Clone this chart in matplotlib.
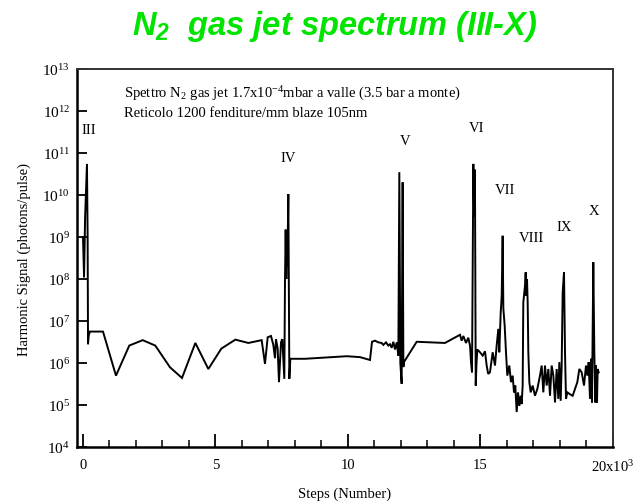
import numpy as np
import matplotlib
matplotlib.use("Agg")
import matplotlib.pyplot as plt
from matplotlib.ticker import FixedLocator, FixedFormatter, MultipleLocator, NullLocator

plt.rcParams['font.family'] = ['Liberation Serif', 'DejaVu Serif']
plt.rcParams['mathtext.fontset'] = 'custom'
plt.rcParams['mathtext.rm'] = 'Liberation Serif'
plt.rcParams['mathtext.it'] = 'Liberation Serif:italic'
plt.rcParams['mathtext.bf'] = 'Liberation Serif:bold'
plt.rcParams['mathtext.bfit'] = 'Liberation Sans:italic:bold'

# ---------------- data ----------------
steps = [0, 40, 80, 150, 175, 190, 215, 260, 755, 1245, 1747, 2252, 2728, 3283, 3736,
         4240, 4730, 5220, 5750, 6240, 6742, 6868, 6969, 7094, 7182, 7245, 7283, 7346,
         7396, 7472, 7522, 7597, 7623, 7648, 7673, 7686, 7711, 7749, 7787, 7824, 8378,
         9950, 10453, 10830, 10906, 11019, 11144, 11270, 11333, 11434, 11522, 11585,
         11648, 11711, 11774, 11837, 11900, 11937, 11975, 12024, 12062, 12090, 12113,
         12150, 12592, 13094, 13660, 14226, 14289, 14352, 14453, 14540, 14604, 14642,
         14680, 14730, 14760, 14790, 14820, 14850, 14880, 14981, 15082, 15170, 15233,
         15290, 15358, 15459, 15547, 15610, 15673, 15710, 15761, 15800, 15836, 15862,
         15912, 15962, 16012, 16087, 16151, 16214, 16264, 16314, 16365, 16415, 16465,
         16516, 16553, 16591, 16616, 16654, 16679, 16705, 16730, 16755, 16780, 16805,
         16843, 16893, 16968, 17056, 17144, 17245, 17308, 17371, 17434, 17497, 17560,
         17623, 17686, 17749, 17812, 17874, 17937, 17975, 18026, 18063, 18101, 18151,
         18189, 18226, 18277, 18377, 18478, 18566, 18654, 18730, 18818, 18906, 18981,
         19032, 19082, 19132, 19170, 19207, 19257, 19295, 19333, 19358, 19396, 19421,
         19459]
signal = [1.0e9, 1.1e8, 3.0e9, 5.5e10, 1.0e9, 2.8e6, 4.5e6, 5.6e6, 5.6e6, 5.0e5, 2.6e6,
          3.5e6, 2.6e6, 7.9e5, 4.4e5, 3.0e6, 7.2e5, 2.2e6, 3.6e6, 3.0e6, 3.5e6, 9.5e5,
          4.1e6, 4.4e6, 2.7e6, 1.3e6, 3.7e6, 2.2e6, 3.5e5, 3.1e6, 3.7e6, 4.2e5, 1.0e8,
          1.5e9, 1.0e8, 3.6e8, 2.0e8, 1.05e10, 4.2e5, 1.26e6, 1.26e6,
          1.45e6, 1.38e6, 1.18e6, 3.2e6, 3.4e6, 3.1e6, 3.0e6, 2.7e6, 3.1e6, 2.6e6, 2.8e6,
          2.3e6, 3.2e6, 2.1e6, 3.1e6, 1.5e6, 3.5e10, 1.0e6, 3.2e5, 2.0e10, 8.0e5, 1.05e6,
          1.15e6, 3.2e6, 3.1e6, 3.0e6, 4.7e6, 3.4e6, 4.4e6, 3.0e6, 4.0e6, 2.6e6, 1.05e6,
          6.0e5, 5.5e10, 3.0e9, 4.0e10, 2.9e5, 1.0e6, 2.1e6, 1.8e6, 1.5e6, 1.9e6, 8.7e5,
          5.5e5, 6.0e5, 1.8e6, 8.7e5, 2.6e6, 6.5e6, 1.8e6, 1.5e7, 4.0e7, 1.07e9, 2.0e7,
          7.8e6, 1.8e6, 5.0e5, 8.7e5, 3.5e5, 5.0e5, 2.0e5, 2.9e5, 6.8e4, 2.0e5, 9.5e4,
          1.66e5, 1.05e5, 2.9e5, 2.8e7, 4.8e7, 6.9e7, 1.45e8, 4.0e7, 1.0e8, 2.8e7, 1.8e6,
          3.5e5, 2.0e5, 2.9e5, 1.66e5, 2.4e5, 5.0e5, 8.7e5, 2.0e5, 8.7e5, 2.9e5, 7.2e5,
          1.66e5, 8.7e5, 5.0e5, 1.15e5, 7.2e5, 1.4e5, 1.05e6, 1.26e5, 8.7e5, 4.8e7, 1.45e8,
          1.8e6, 1.4e5, 2.0e5, 1.8e5, 1.66e5, 2.4e5, 3.5e5, 7.2e5, 6.0e5, 2.9e5, 8.7e5,
          5.0e5, 1.05e6, 1.4e5, 1.26e6, 1.15e5, 2.5e8, 1.8e6, 1.15e5, 8.7e5, 1.15e5, 7.2e5,
          6.0e5]

harmonic_labels = ['III', 'IV', 'V', 'VI', 'VII', 'VIII', 'IX', 'X']
x_tick_values = [0, 5000, 10000, 15000, 20000]
x_tick_labels = ['0', '5', '10', '15', r'20x10$^{3}$']
y_exponents = [4, 5, 6, 7, 8, 9, 10, 11, 12, 13]

# ---------------- figure ----------------
fig = plt.figure(figsize=(6.43, 5.02), dpi=100)
fig.patch.set_facecolor('white')
ax = fig.add_axes([77/643, 1 - 448/502, (613 - 77)/643, (448 - 70)/502])

ax.plot(steps, signal, color='black', lw=1.4, solid_joinstyle='miter')
ax.set_yscale('log')
ax.set_xlim(-226, 20000)
ax.set_ylim(1e4, 1e13)

ax.xaxis.set_major_locator(FixedLocator(x_tick_values))
ax.xaxis.set_major_formatter(FixedFormatter(x_tick_labels))
ax.xaxis.set_minor_locator(MultipleLocator(1000))
ax.yaxis.set_major_locator(FixedLocator([10.0**e for e in y_exponents]))
ax.yaxis.set_major_formatter(FixedFormatter([r'$10^{%d}$' % e for e in y_exponents]))
ax.yaxis.set_minor_locator(NullLocator())

ax.tick_params(axis='x', which='major', direction='in', length=9.5, width=1.3,
               labelsize=10.5, pad=8)
ax.tick_params(axis='x', which='minor', direction='in', length=5, width=1.1)
ax.tick_params(axis='y', which='major', direction='in', length=7.5, width=1.3,
               labelsize=11, pad=5)

for side in ['left', 'bottom']:
    ax.spines[side].set_linewidth(1.8)
for side in ['top', 'right']:
    ax.spines[side].set_linewidth(1.4)
    ax.spines[side].set_color('#333333')

ax.set_xlabel('Steps (Number)', fontsize=10.5, labelpad=9)
ax.set_ylabel('Harmonic Signal (photons/pulse)', fontsize=10.5, labelpad=8)

# harmonic order labels
label_pos = [(226, 10**11.57), (7736, 10**10.90), (12149, 10**11.29), (14868, 10**11.60),
             (15925, 10**10.14), (16905, 10**8.98), (18150, 10**9.26), (19282, 10**9.64)]
for name, (xp, yp) in zip(harmonic_labels, label_pos):
    ax.text(xp, yp, name, ha='center', va='center', fontsize=10.5)

ax.text(0.087, 0.938, r'Spettro N$_2$ gas jet 1.7x10$^{-4}$mbar a valle (3.5 bar a monte)',
        transform=ax.transAxes, ha='left', va='center', fontsize=10.5)
ax.text(0.087, 0.885, 'Reticolo 1200 fenditure/mm blaze 105nm',
        transform=ax.transAxes, ha='left', va='center', fontsize=10.5)

fig.text(335/643, 1 - 27/502, r'$\mathbfit{N_2}$  gas jet spectrum (III-X)',
         ha='center', va='center', fontsize=23.5, color='#00e400',
         family='Liberation Sans', weight='bold', style='italic')

fig.savefig('out.png', dpi=100, facecolor='white')
